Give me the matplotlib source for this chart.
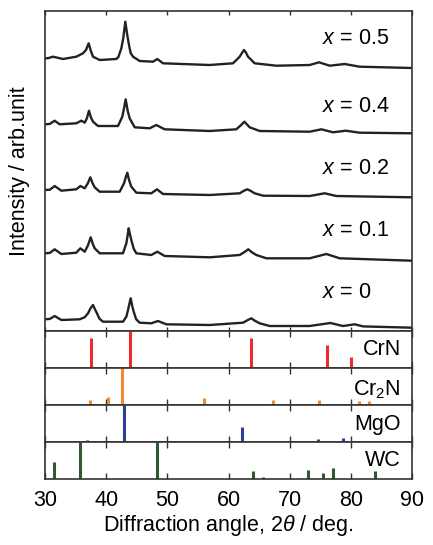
import matplotlib
matplotlib.use("Agg")
from matplotlib import pyplot as plt

plt.rcParams['font.family'] = ['Liberation Sans', 'DejaVu Sans']
plt.rcParams['mathtext.fontset'] = 'custom'
plt.rcParams['mathtext.rm'] = 'Liberation Sans'
plt.rcParams['mathtext.it'] = 'Liberation Sans:italic'

# XRD patterns (2theta, intensity in arb. units)
two_theta_x0 = [30.0, 30.8, 31.58, 32.67, 35.67, 36.5, 37.03, 37.45, 37.85, 38.2, 38.5, 38.9,
                39.48, 42.75, 43.3, 43.57, 43.8, 44.01, 44.25, 44.5, 44.9, 45.48, 47.38,
                48.47, 49.84, 56.92, 62.37, 63.1, 63.73, 64.3, 65.09, 66.73, 73.27,
                76.65, 78.72, 80.63, 81.99, 90.0]
int_x0 = [8.4, 8.8, 11.7, 7.7, 8.4, 10.5, 14.4, 19.5, 22.7, 18.0, 14.4, 9.0,
          6.0, 6.0, 11.0, 17.7, 24.0, 29.4, 22.0, 16.0, 8.5, 5.0, 4.4,
          6.7, 3.4, 2.7, 5.0, 7.5, 9.4, 7.0, 4.4, 1.7, 1.7,
          4.7, 1.7, 3.4, 1.3, 0.0]

two_theta_x01 = [30.0, 30.8, 31.58, 32.67, 35.12, 35.78, 36.49, 37.0, 37.47, 37.8, 38.12,
                 38.94, 42.75, 43.3, 43.5, 43.68, 43.9, 44.11, 44.5, 44.93, 47.38,
                 48.37, 49.56, 56.92, 61.83, 62.7, 63.24, 63.8, 64.55, 66.19, 73.27,
                 76.0, 78.17, 90.0]
int_x01 = [7.4, 7.8, 11.4, 6.7, 8.0, 12.4, 9.0, 15.0, 23.4, 17.0, 12.4,
           7.4, 7.4, 17.4, 25.0, 32.4, 26.0, 20.7, 12.0, 7.4, 5.7,
           9.0, 4.7, 3.4, 5.7, 9.0, 11.4, 8.5, 5.7, 2.4, 2.4,
           6.7, 2.4, 0.0]

two_theta_x02 = [30.0, 30.8, 31.58, 32.67, 35.12, 35.78, 36.49, 37.0, 37.41, 37.75, 38.12,
                 38.94, 42.21, 42.92, 43.2, 43.46, 43.75, 44.11, 44.93, 47.38, 48.31,
                 49.29, 56.92, 61.83, 62.5, 63.08, 63.6, 64.28, 65.64, 73.27, 75.72,
                 77.63, 90.0]
int_x02 = [7.3, 7.6, 11.3, 6.6, 8.0, 11.3, 9.0, 14.0, 20.0, 14.5, 10.0,
           5.6, 5.6, 14.0, 20.0, 24.6, 17.0, 10.6, 4.6, 4.0, 8.0,
           3.3, 2.3, 4.0, 6.5, 8.0, 6.5, 4.0, 1.6, 1.3, 4.0,
           1.3, 0.0]

two_theta_x04 = [30.0, 30.8, 31.58, 32.4, 35.12, 35.94, 36.49, 36.85, 37.19, 37.5, 37.85,
                 38.66, 41.93, 42.64, 42.95, 43.19, 43.5, 43.84, 44.66, 47.11, 48.2,
                 49.56, 56.92, 61.28, 62.1, 62.59, 63.0, 63.46, 65.09, 73.27, 75.18,
                 77.09, 79.16, 81.44, 90.0]
int_x04 = [9.0, 9.4, 12.6, 9.0, 10.0, 12.6, 10.6, 15.0, 22.6, 16.0, 11.6,
           7.3, 7.3, 16.6, 26.0, 34.0, 23.0, 15.0, 6.0, 5.0, 8.3,
           4.0, 2.3, 4.0, 8.5, 11.6, 9.0, 6.0, 2.3, 1.6, 4.0,
           1.0, 2.6, 0.6, 0.0]

two_theta_x05 = [30.0, 30.6, 31.31, 32.94, 35.12, 36.21, 36.7, 37.14, 37.5, 37.85, 38.94,
                 41.66, 42.0, 42.48, 42.8, 43.13, 43.45, 43.73, 44.0, 44.39, 45.48,
                 47.66, 48.37, 49.29, 56.92, 60.74, 61.83, 62.2, 62.53, 62.85, 63.19,
                 64.28, 67.82, 73.27, 74.8, 76.54, 79.0, 81.44, 90.0]
int_x05 = [9.5, 10.0, 11.3, 9.0, 11.3, 14.7, 18.0, 24.7, 17.0, 11.3, 8.0,
           9.0, 11.0, 19.7, 30.0, 46.3, 33.0, 23.0, 15.0, 11.3, 7.0,
           6.3, 9.0, 4.7, 3.0, 4.7, 11.3, 15.0, 18.0, 15.5, 11.3,
           4.7, 2.3, 3.0, 5.7, 2.3, 4.0, 1.3, 0.0]

patterns = [(two_theta_x0, int_x0), (two_theta_x01, int_x01), (two_theta_x02, int_x02),
            (two_theta_x04, int_x04), (two_theta_x05, int_x05)]
pattern_labels = ['0', '0.1', '0.2', '0.4', '0.5']
pattern_offsets = [3.3, 70.3, 133.7, 197.7, 263.0]
label_rows = [292, 230, 169, 107, 39]  # pixel rows of the composition labels

# Reference stick patterns (2theta, relative intensity)
crn_pos = [37.57, 43.9, 63.68, 76.15, 80.0]
crn_int = [0.8, 1.0, 0.8, 0.61, 0.31]
cr2n_pos = [37.36, 40.24, 42.64, 56.05, 67.33, 74.8, 81.39, 83.02]
cr2n_int = [0.14, 0.22, 1.0, 0.19, 0.14, 0.14, 0.11, 0.11]
mgo_pos = [36.92, 42.97, 62.26, 74.63, 78.72]
mgo_int = [0.05, 1.0, 0.4, 0.07, 0.1]
wc_pos = [31.53, 35.67, 48.31, 64.0, 65.69, 73.05, 75.4, 77.14, 84.0]
wc_int = [0.47, 1.0, 1.0, 0.22, 0.06, 0.25, 0.15, 0.31, 0.21]

sticks = [
    ('CrN', crn_pos, crn_int, '#ee2a2a', 0.5),
    ('Cr$_2$N', cr2n_pos, cr2n_int, '#f08c30', 0.42),
    ('MgO', mgo_pos, mgo_int, '#2c3e98', 0.48),
    ('WC', wc_pos, wc_int, '#2e5a2e', 0.5),
]

W, H = 433, 545
fig = plt.figure(figsize=(W / 100, H / 100), dpi=100)

left = 45 / W
width = (412 - 45) / W
fs = 15.5
frame_color = '#333333'


def style_axis(ax, tick_len):
    ax.set_xlim(30, 90)
    ax.set_xticks([30, 40, 50, 60, 70, 80, 90])
    ax.set_yticks([])
    ax.tick_params(axis='x', direction='in', top=True, bottom=True, length=tick_len,
                   width=1.0, color=frame_color, labelbottom=False, labelsize=fs)
    for sp in ax.spines.values():
        sp.set_color(frame_color)
        sp.set_linewidth(1.2)


# main panel with the measured patterns
ax_main = fig.add_axes([left, 1 - 331 / H, width, 320 / H])
style_axis(ax_main, 3)
ax_main.set_ylim(0, 320)
for (tt, inten), off, lab, row in zip(patterns, pattern_offsets, pattern_labels, label_rows):
    ax_main.plot(tt, [v + off for v in inten], color='#222222', lw=1.7)
    ax_main.text(0.755, (331 - row) / 320, '$x$ = ' + lab, transform=ax_main.transAxes,
                 ha='left', va='center', fontsize=fs)

# stick panels
tops = [331, 368, 405, 442]
for i, (name, pos, inten, col, ty) in enumerate(sticks):
    top = tops[i]
    ax = fig.add_axes([left, 1 - (top + 37) / H, width, 37 / H])
    style_axis(ax, 4.5)
    ax.set_ylim(0, 1.0)
    ax.vlines(pos, 0, inten, colors=col, lw=2.2)
    ax.text(0.97, ty, name, transform=ax.transAxes, ha='right', va='center', fontsize=fs)
    if i == len(sticks) - 1:
        ax.tick_params(axis='x', labelbottom=True, pad=8)

fig.text(228 / W, 1 - 525 / H, 'Diffraction angle, 2$\\it{\\theta}$ / deg.',
         ha='center', va='center', fontsize=fs)
fig.text(20 / W, 1 - 171 / H, 'Intensity / arb.unit', rotation=90,
         ha='center', va='center', fontsize=fs)

fig.savefig('out.png', dpi=100)
